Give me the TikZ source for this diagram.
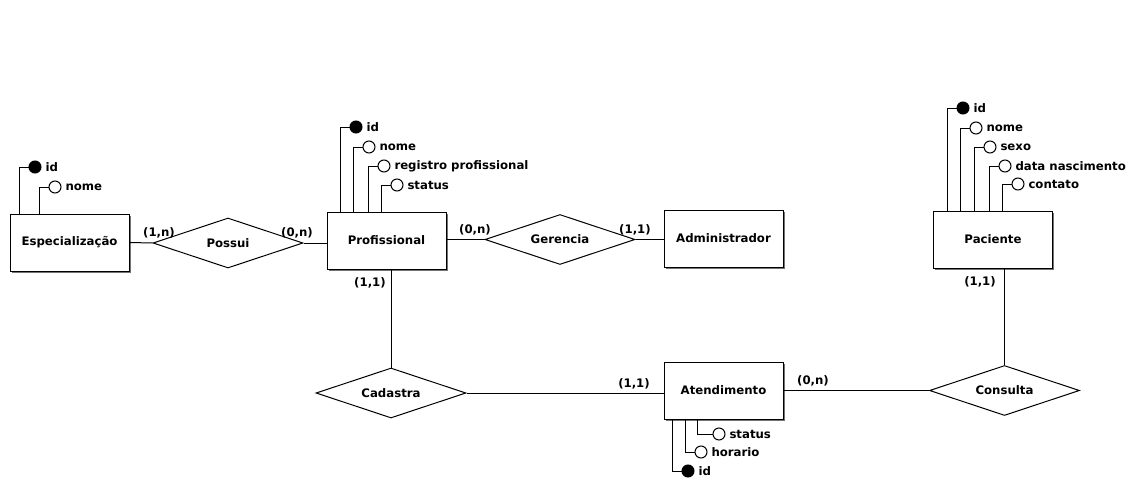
\documentclass[tikz,border=0pt]{standalone}
\usepackage{fontspec}
\newfontfamily\erfont{DejaVu Sans}
\usetikzlibrary{shapes.geometric,calc,shadows}
\tikzset{
  base/.style={line width=0.75pt},
  entity/.style={base,draw,fill=white,rectangle,minimum width=89.25pt,minimum height=42.75pt,inner sep=0pt,
    drop shadow={shadow xshift=1.4pt,shadow yshift=-1.4pt,fill=black!55,opacity=1}},
  relation/.style={base,draw,fill=white,diamond,aspect=3,minimum width=112.5pt,minimum height=37.5pt,inner sep=0pt},
  attr/.style={base,draw,circle,fill=white,minimum size=9pt,inner sep=0pt},
  keyattr/.style={attr,fill=black},
  attrtext/.style={anchor=west,inner sep=2.8pt},
  card/.style={inner sep=0pt},
  conn/.style={base},
}
\begin{document}
\begin{tikzpicture}[x=0.75pt,y=-0.75pt,font=\erfont\bfseries\fontsize{8.8pt}{10.5pt}\selectfont]
\useasboundingbox (0,0) rectangle (1136,482);
% entities
\node[entity] (esp) at (69.5,242.5) {Especialização};
\node[entity] (prof) at (386.5,240.5) {Profissional};
\node[entity] (adm) at (723.5,238.5) {Administrador};
\node[entity] (pac) at (993,239.5) {Paciente};
\node[entity] (ate) at (723.5,390.5) {Atendimento};
% relations
\node[relation] (pos) at (228,243) {Possui};
\node[relation] (ger) at (560,239.5) {Gerencia};
\node[relation] (cad) at (391,393) {Cadastra};
\node[relation] (con) at (1004.5,390.5) {Consulta};
% connectors
\draw[conn] (esp.east) -- (pos.west);
\draw[conn] (pos.east) -- (pos.east -| prof.west);
\draw[conn] (prof.east |- ger.west) -- (ger.west);
\draw[conn] (ger.east) -- (ger.east -| adm.west);
\draw[conn] (cad.north |- prof.south) -- (cad.north);
\draw[conn] (cad.east) -- (cad.east -| ate.west);
\draw[conn] (ate.east |- con.west) -- (con.west);
\draw[conn] (con.north |- pac.south) -- (con.north);
% cardinalities
\node[card] (c1) at (159,233) {(1,n)};
\node[card] (c2) at (297,233) {(0,n)};
\node[card] (c3) at (475,230) {(0,n)};
\node[card] (c4) at (635,230) {(1,1)};
\node[card] (c5) at (370,283) {(1,1)};
\node[card] (c6) at (634,384) {(1,1)};
\node[card] (c7) at (813,381) {(0,n)};
\node[card] (c8) at (980,282) {(1,1)};
% Especializacao attributes
\node[keyattr] (ea1) at (35,167) {};
\node[attr] (ea2) at (55,187) {};
\node[attrtext] (et1) at (ea1.east) {id};
\node[attrtext] (et2) at (ea2.east) {nome};
\draw[conn] (ea1.west) -| ($(esp.north west)+(10,0)$);
\draw[conn] (ea2.west) -| ($(esp.north west)+(30,0)$);
% Profissional attributes
\node[keyattr] (pa1) at (356,127) {};
\node[attr] (pa2) at (369,147) {};
\node[attr] (pa3) at (384,166) {};
\node[attr] (pa4) at (397,185) {};
\node[attrtext] (pt1) at (pa1.east) {id};
\node[attrtext] (pt2) at (pa2.east) {nome};
\node[attrtext] (pt3) at (pa3.east) {registro profissional};
\node[attrtext] (pt4) at (pa4.east) {status};
\draw[conn] (pa1.west) -| ($(prof.north west)+(14,0)$);
\draw[conn] (pa2.west) -| ($(prof.north west)+(27,0)$);
\draw[conn] (pa3.west) -| ($(prof.north west)+(42,0)$);
\draw[conn] (pa4.west) -| ($(prof.north west)+(55,0)$);
% Paciente attributes
\node[keyattr] (ka1) at (963,108) {};
\node[attr] (ka2) at (976,128) {};
\node[attr] (ka3) at (990,147) {};
\node[attr] (ka4) at (1005,166) {};
\node[attr] (ka5) at (1018,184) {};
\node[attrtext] (kt1) at (ka1.east) {id};
\node[attrtext] (kt2) at (ka2.east) {nome};
\node[attrtext] (kt3) at (ka3.east) {sexo};
\node[attrtext] (kt4) at (ka4.east) {data nascimento};
\node[attrtext] (kt5) at (ka5.east) {contato};
\draw[conn] (ka1.west) -| ($(pac.north west)+(14.5,0)$);
\draw[conn] (ka2.west) -| ($(pac.north west)+(27.5,0)$);
\draw[conn] (ka3.west) -| ($(pac.north west)+(41.5,0)$);
\draw[conn] (ka4.west) -| ($(pac.north west)+(56.5,0)$);
\draw[conn] (ka5.west) -| ($(pac.north west)+(69.5,0)$);
% Atendimento attributes
\node[attr] (ta1) at (719,434) {};
\node[attr] (ta2) at (701,452) {};
\node[keyattr] (ta3) at (688,471) {};
\node[attrtext] (tt1) at (ta1.east) {status};
\node[attrtext] (tt2) at (ta2.east) {horario};
\node[attrtext] (tt3) at (ta3.east) {id};
\draw[conn] (ta1.west) -| ($(ate.south west)+(34,0)$);
\draw[conn] (ta2.west) -| ($(ate.south west)+(22,0)$);
\draw[conn] (ta3.west) -| ($(ate.south west)+(9,0)$);
\end{tikzpicture}
\end{document}
